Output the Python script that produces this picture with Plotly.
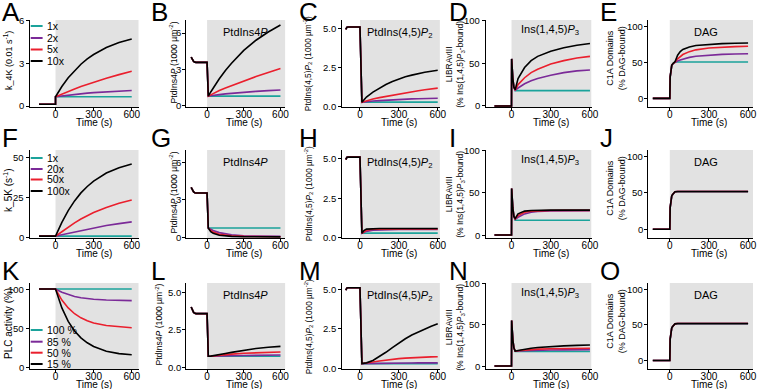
import plotly.graph_objects as go

W, H = 763, 389

# ---------------- data ----------------
# Rate panels (A, F): time (s)
T_RATE = [-130, 0, 0.1, 50, 100, 150, 200, 250, 300, 400, 500, 600]
A_1x = [0.12, 0.12, 0.65, 0.65, 0.65, 0.65, 0.65, 0.65, 0.65, 0.65, 0.65, 0.65]
A_2x = [0.12, 0.12, 0.65, 0.71, 0.76, 0.81, 0.86, 0.90, 0.94, 1.00, 1.05, 1.09]
A_5x = [0.12, 0.12, 0.65, 0.85, 1.03, 1.20, 1.37, 1.52, 1.67, 1.95, 2.20, 2.43]
A_10x = [0.12, 0.12, 0.65, 1.37, 1.98, 2.49, 2.93, 3.30, 3.61, 4.10, 4.45, 4.70]
F_1x = [0.6, 0.6, 0.6, 0.6, 0.6, 0.6, 0.6, 0.6, 0.6, 0.6, 0.6, 0.6]
F_20x = [0.6, 0.6, 0.6, 1.4, 2.2, 3.2, 4.1, 4.9, 5.7, 7.2, 8.4, 9.5]
F_50x = [0.6, 0.6, 0.6, 3.3, 6.3, 8.9, 11.3, 13.4, 15.3, 18.5, 21.1, 23.1]
F_100x = [0.6, 0.6, 0.6, 9.1, 16.5, 22.6, 27.6, 31.6, 35.0, 40.0, 43.3, 45.6]

# PLC activity (K)
T_PLC = [-130, 0, 50, 100, 150, 200, 250, 300, 400, 500, 600]
K_100 = [100, 100, 100, 100, 100, 100, 100, 100, 100, 100, 100]
K_85 = [100, 100, 95.8, 92.8, 90.6, 89.0, 87.9, 87.1, 86.1, 85.6, 85.3]
K_50 = [100, 100, 86.0, 76.0, 68.7, 63.5, 59.8, 57.0, 53.7, 51.9, 51.0]
K_15 = [100, 100, 76.0, 59.0, 46.9, 38.1, 31.9, 27.2, 21.2, 18.2, 16.7]

# PtdIns4P (B, G, L)
T_PI4P = [-130, -120, -110, -100, -90, 0, 10, 30, 50, 100, 150, 200, 300, 400, 500, 600]
PRE_PI4P = [4.0, 3.78, 3.64, 3.58, 3.56, 3.56]
B_1x = [0.75, 0.75, 0.75, 0.75, 0.75, 0.75, 0.75, 0.75, 0.75, 0.75]
B_2x = [0.75, 0.78, 0.82, 0.88, 0.94, 0.99, 1.08, 1.15, 1.21, 1.26]
B_5x = [0.75, 0.86, 0.98, 1.22, 1.43, 1.63, 2.00, 2.38, 2.72, 3.05]
B_10x = [0.75, 1.10, 1.45, 2.20, 2.88, 3.48, 4.55, 5.40, 6.08, 6.66]
G_1x = [0.75, 0.75, 0.75, 0.75, 0.75, 0.75, 0.75, 0.75, 0.75, 0.75]
G_20x = [0.75, 0.65, 0.55, 0.38, 0.27, 0.20, 0.13, 0.10, 0.09, 0.08]
G_50x = [0.75, 0.55, 0.42, 0.25, 0.17, 0.12, 0.08, 0.06, 0.05, 0.05]
G_100x = [0.75, 0.45, 0.32, 0.17, 0.11, 0.08, 0.05, 0.04, 0.04, 0.04]
L_100 = [0.72, 0.72, 0.72, 0.72, 0.72, 0.72, 0.72, 0.72, 0.72, 0.72]
L_85 = [0.72, 0.72, 0.73, 0.74, 0.75, 0.76, 0.77, 0.78, 0.79, 0.80]
L_50 = [0.72, 0.72, 0.74, 0.78, 0.82, 0.86, 0.92, 0.96, 0.98, 1.00]
L_15 = [0.72, 0.73, 0.75, 0.82, 0.90, 0.98, 1.12, 1.24, 1.32, 1.38]

# PtdIns(4,5)P2 (C, H, M)
T_PIP2 = [-110, -105, -100, -90, 0, 15, 30, 50, 100, 150, 200, 250, 300, 350, 400, 450, 500, 550, 600]
PRE_PIP2 = [4.95, 5.05, 5.09, 5.10, 5.10]
C_1x = [0.28, 0.29, 0.29, 0.29, 0.29, 0.29, 0.29, 0.29, 0.29, 0.29, 0.29, 0.29, 0.29, 0.29]
C_2x = [0.28, 0.30, 0.32, 0.36, 0.39, 0.42, 0.44, 0.46, 0.48, 0.50, 0.51, 0.52, 0.53, 0.54]
C_5x = [0.28, 0.32, 0.38, 0.49, 0.58, 0.66, 0.74, 0.82, 0.89, 0.96, 1.02, 1.08, 1.14, 1.19]
C_10x = [0.28, 0.42, 0.62, 0.93, 1.19, 1.42, 1.61, 1.77, 1.91, 2.02, 2.12, 2.20, 2.27, 2.33]
H_1x = [0.28, 0.29, 0.29, 0.29, 0.29, 0.29, 0.29, 0.29, 0.29, 0.29, 0.29, 0.29, 0.29, 0.29]
H_20x = [0.28, 0.33, 0.40, 0.48, 0.50, 0.51, 0.52, 0.52, 0.52, 0.52, 0.52, 0.52, 0.52, 0.52]
H_50x = [0.28, 0.38, 0.47, 0.53, 0.54, 0.55, 0.55, 0.55, 0.55, 0.55, 0.55, 0.55, 0.55, 0.55]
H_100x = [0.28, 0.45, 0.54, 0.57, 0.58, 0.58, 0.58, 0.58, 0.58, 0.58, 0.58, 0.58, 0.58, 0.58]
M_100 = [0.28, 0.28, 0.28, 0.28, 0.28, 0.28, 0.28, 0.28, 0.28, 0.28, 0.28, 0.28, 0.28, 0.28]
M_85 = [0.28, 0.28, 0.29, 0.30, 0.30, 0.31, 0.31, 0.32, 0.32, 0.32, 0.33, 0.33, 0.33, 0.33]
M_50 = [0.28, 0.29, 0.31, 0.38, 0.45, 0.51, 0.56, 0.60, 0.63, 0.66, 0.68, 0.70, 0.71, 0.72]
M_15 = [0.28, 0.29, 0.33, 0.48, 0.73, 1.00, 1.30, 1.60, 1.86, 2.10, 2.30, 2.48, 2.66, 2.82]

# Ins(1,4,5)P3 / LIBRAvIII (D, I, N)
T_IP3 = [-130, 0, 1, 5, 10, 18, 28, 50, 100, 150, 200, 300, 400, 500, 600]
PRE_IP3 = [0, 0, 55, 42, 32, 22]
D_1x = [18, 18, 18, 18, 18, 18, 18, 18, 18]
D_2x = [18.5, 21, 26, 29.5, 32, 36, 39, 41, 42]
D_5x = [18.5, 25, 33, 39, 43, 49, 53, 56, 58]
D_10x = [19, 32, 45, 53, 58, 64, 68, 71, 73]
I_1x = [17.5, 17.5, 17.5, 17.5, 17.5, 17.5, 17.5, 17.5, 17.5]
I_20x = [18.5, 21, 25, 27, 28, 28.5, 28.7, 28.8, 28.8]
I_50x = [19, 23, 27, 28.3, 28.8, 29, 29.1, 29.2, 29.2]
I_100x = [19.5, 25, 28.3, 29, 29.3, 29.5, 29.5, 29.5, 29.5]
N_100 = [17.5, 17.5, 17.5, 17.5, 17.5, 17.5, 17.5, 17.5, 17.5]
N_85 = [18, 18.3, 18.7, 19, 19.2, 19.4, 19.5, 19.6, 19.7]
N_50 = [18, 18.5, 19.3, 19.9, 20.4, 21, 21.3, 21.5, 21.6]
N_15 = [18, 18.8, 20.5, 21.6, 22.4, 23.6, 24.4, 25, 25.4]

# DAG / C1A domains (E, J, O)
T_DAG = [-130, 0, 3, 8, 15, 25, 40, 60, 80, 100, 150, 200, 300, 400, 500, 600]
PRE_DAG = [0, 0, 30, 42, 46, 48.5]
E_1x = [50.5, 50.5, 50.5, 50.5, 50.5, 50.5, 50.5, 50.5, 50.5, 50.5]
E_2x = [50.5, 52, 53.5, 54.8, 57, 58.5, 60.2, 61.2, 61.7, 62]
E_5x = [50.5, 55, 58.5, 61, 65, 67.5, 70, 71.3, 72, 72.5]
E_10x = [51, 60, 65, 68, 71.5, 73.5, 75.3, 76.2, 76.7, 77]
J_1x = [51, 51.5, 51.5, 51.5, 51.5, 51.5, 51.5, 51.5, 51.5, 51.5]
J_20x = [51.5, 52, 52, 52, 52, 52, 52, 52, 52, 52]
J_50x = [51.5, 52, 52, 52, 52, 52, 52, 52, 52, 52]
J_100x = [51.5, 52, 52, 52, 52, 52, 52, 52, 52, 52]
O_100 = [51, 51.5, 51.5, 51.5, 51.5, 51.5, 51.5, 51.5, 51.5, 51.5]
O_85 = [51.5, 52, 52, 52, 52, 52, 52, 52, 52, 52]
O_50 = [51.5, 52, 52, 52, 52, 52, 52, 52, 52, 52]
O_15 = [51.5, 52, 52, 52, 52, 52, 52, 52, 52, 52]

# tick values / labels
X_TICKS = [0, 300, 600]
Y_TICKS_36 = [0, 3, 6]
Y_TICKS_25 = [0, 2.5, 5]
Y_TEXT_25 = ["0.0", "2.5", "5.0"]
Y_TICKS_100 = [0, 50, 100]
Y_TICKS_F = [0, 25, 50]

# legend labels
LEG_A = ["1x", "2x", "5x", "10x"]
LEG_F = ["1x", "20x", "50x", "100x"]
LEG_K = ["100 %", "85 %", "50 %", "15 %"]

# ---------------- style ----------------
COLORS = ["#1ba39b", "#7b2a98", "#ea1f2d", "#000000"]
GREY = "#e2e2e2"
FONT = "Liberation Sans, Arial, sans-serif"

COLS = [(30, 140, [-203, 655]), (188, 288, [-170, 640]), (345, 444, [-140, 617]),
        (490, 597, [-199, 612]), (654, 760, [-167, 638])]
ROWS = [(20, 107), (150, 238), (283, 369)]


def px(x):
    return x / W


def py(y):
    return 1 - y / H


PI4P_TITLE = "PtdIns4<i>P</i> (1000 µm<sup>-2</sup>)"
PIP2_TITLE = "PtdIns(4,5)<i>P</i><sub>2</sub> (1000 µm<sup>-2</sup>)"
IP3_TITLE = "LIBRAvIII<br>(% Ins(1,4,5)<i>P</i><sub>3</sub>-bound)"
DAG_TITLE = "C1A Domains<br>(% DAG-bound)"


def txt(v):
    return [str(t) for t in v]


panels = [
    # row 1
    dict(L="A", t=T_RATE, ys=[A_1x, A_2x, A_5x, A_10x], yr=[-0.07, 6.03], tv=Y_TICKS_36, tt=txt(Y_TICKS_36),
         yt="k_4K (0.01 s<sup>-1</sup>)", lab=None),
    dict(L="B", t=T_PI4P, ys=[PRE_PI4P + s for s in (B_1x, B_2x, B_5x, B_10x)], yr=[-0.15, 7.08],
         tv=Y_TICKS_36, tt=txt(Y_TICKS_36), yt=PI4P_TITLE, lab="PtdIns4<i>P</i>"),
    dict(L="C", t=T_PIP2, ys=[PRE_PIP2 + s for s in (C_1x, C_2x, C_5x, C_10x)], yr=[-0.02, 5.55],
         tv=Y_TICKS_25, tt=Y_TEXT_25, yt=PIP2_TITLE, lab="PtdIns(4,5)<i>P</i><sub>2</sub>"),
    dict(L="D", t=T_IP3, ys=[PRE_IP3 + s for s in (D_1x, D_2x, D_5x, D_10x)], yr=[-1.2, 100.5],
         tv=Y_TICKS_100, tt=txt(Y_TICKS_100), yt=IP3_TITLE, lab="Ins(1,4,5)<i>P</i><sub>3</sub>"),
    dict(L="E", t=T_DAG, ys=[PRE_DAG + s for s in (E_1x, E_2x, E_5x, E_10x)], yr=[-12, 109],
         tv=Y_TICKS_100, tt=txt(Y_TICKS_100), yt=DAG_TITLE, lab="DAG"),
    # row 2
    dict(L="F", t=T_RATE, ys=[F_1x, F_20x, F_50x, F_100x], yr=[-0.6, 54.4], tv=Y_TICKS_F, tt=txt(Y_TICKS_F),
         yt="k_5K (s<sup>-1</sup>)", lab=None),
    dict(L="G", t=T_PI4P, ys=[PRE_PI4P + s for s in (G_1x, G_20x, G_50x, G_100x)], yr=[-0.05, 7.0],
         tv=Y_TICKS_36, tt=txt(Y_TICKS_36), yt=PI4P_TITLE, lab="PtdIns4<i>P</i>"),
    dict(L="H", t=T_PIP2, ys=[PRE_PIP2 + s for s in (H_1x, H_20x, H_50x, H_100x)], yr=[-0.02, 5.55],
         tv=Y_TICKS_25, tt=Y_TEXT_25, yt=PIP2_TITLE, lab="PtdIns(4,5)<i>P</i><sub>2</sub>"),
    dict(L="I", t=T_IP3, ys=[PRE_IP3 + s for s in (I_1x, I_20x, I_50x, I_100x)], yr=[-3.5, 100.5],
         tv=Y_TICKS_100, tt=txt(Y_TICKS_100), yt=IP3_TITLE, lab="Ins(1,4,5)<i>P</i><sub>3</sub>"),
    dict(L="J", t=T_DAG, ys=[PRE_DAG + s for s in (J_1x, J_20x, J_50x, J_100x)], yr=[-12, 109],
         tv=Y_TICKS_100, tt=txt(Y_TICKS_100), yt=DAG_TITLE, lab="DAG"),
    # row 3
    dict(L="K", t=T_PLC, ys=[K_100, K_85, K_50, K_15], yr=[-1.3, 107.6], tv=Y_TICKS_100,
         tt=txt(Y_TICKS_100), yt="PLC activity (%)", lab=None),
    dict(L="L", t=T_PI4P, ys=[PRE_PI4P + s for s in (L_100, L_85, L_50, L_15)], yr=[-0.13, 5.6],
         tv=Y_TICKS_25, tt=Y_TEXT_25, yt=PI4P_TITLE, lab="PtdIns4<i>P</i>"),
    dict(L="M", t=T_PIP2, ys=[PRE_PIP2 + s for s in (M_100, M_85, M_50, M_15)], yr=[-0.06, 5.4],
         tv=Y_TICKS_25, tt=Y_TEXT_25, yt=PIP2_TITLE, lab="PtdIns(4,5)<i>P</i><sub>2</sub>"),
    dict(L="N", t=T_IP3, ys=[PRE_IP3 + s for s in (N_100, N_85, N_50, N_15)], yr=[-3.6, 100.5],
         tv=Y_TICKS_100, tt=txt(Y_TICKS_100), yt=IP3_TITLE, lab="Ins(1,4,5)<i>P</i><sub>3</sub>"),
    dict(L="O", t=T_DAG, ys=[PRE_DAG + s for s in (O_100, O_85, O_50, O_15)], yr=[-12, 109],
         tv=Y_TICKS_100, tt=txt(Y_TICKS_100), yt=DAG_TITLE, lab="DAG"),
]

# y-title x centre (px) per panel, offset from row top, font size
YT_X = [[8, 175, 311, 459, 622], [8, 175, 311, 459, 622], [8, 160, 311, 459, 622]]
YT_DY = [40, 42, 44, 44, 38]
YT_SIZE = [[9, 8.6, 8.3, 8.5, 9], [10, 8.6, 8.3, 8.5, 9], [10, 8.6, 8.3, 8.5, 9]]
LETTER_X = [0, 150, 300, 451, 604]
LETTER_Y = [12, 138, 271]
LAB_X_PX = [None, 248, 403, 555, 713]
LAB_DY = [None, 12, 13, 10, 12]

fig = go.Figure()
annotations = []
shapes = []
layout = {}

for i, p in enumerate(panels):
    r, c = divmod(i, 5)
    n = i + 1
    xs = "" if n == 1 else str(n)
    xl, xr, xrange = COLS[c]
    yt_, yb_ = ROWS[r]
    for k in range(4):
        fig.add_trace(go.Scatter(x=p["t"], y=p["ys"][k], mode="lines",
                                 line=dict(color=COLORS[k], width=1.6),
                                 xaxis="x" + xs, yaxis="y" + xs, showlegend=False,
                                 hoverinfo="skip"))
    layout["xaxis" + xs] = dict(domain=[px(xl), px(xr)], range=xrange, anchor="y" + xs,
                                showline=True, linecolor="black", linewidth=1,
                                ticks="outside", ticklen=3, tickwidth=1, tickcolor="black",
                                tickvals=X_TICKS, ticktext=txt(X_TICKS),
                                showgrid=False, zeroline=False, ticklabeloverflow="allow",
                                tickfont=dict(family=FONT, size=10, color="black"),
                                ticklabelstandoff=-5)
    layout["yaxis" + xs] = dict(domain=[py(yb_), py(yt_)], range=p["yr"], anchor="x" + xs,
                                showline=True, linecolor="black", linewidth=1,
                                ticks="outside", ticklen=3, tickwidth=1, tickcolor="black",
                                tickvals=p["tv"], showticklabels=False,
                                showgrid=False, zeroline=False)
    # y tick labels (placed on the axis scale)
    for v, s in zip(p["tv"], p["tt"]):
        annotations.append(dict(text=s, xref="paper", yref="y" + xs, x=px(xl - 3.5), y=v,
                                xanchor="right", yanchor="middle", showarrow=False,
                                font=dict(family=FONT, size=9.5, color="black")))
    # grey stimulus region
    shapes.append(dict(type="rect", xref="x" + xs, yref="y" + xs + " domain",
                       x0=0, x1=xrange[1], y0=0, y1=1, fillcolor=GREY,
                       line=dict(width=0), layer="below"))
    # panel letter
    annotations.append(dict(text=p["L"], xref="paper", yref="paper", x=px(LETTER_X[c]),
                            y=py(LETTER_Y[r]), xanchor="left", yanchor="middle",
                            showarrow=False, font=dict(family=FONT, size=26, color="black")))
    # y title
    annotations.append(dict(text=p["yt"], xref="paper", yref="paper", x=px(YT_X[r][c]),
                            y=py(yt_ + YT_DY[c]), xanchor="center", yanchor="middle",
                            textangle=-90, showarrow=False,
                            font=dict(family=FONT, size=YT_SIZE[r][c], color="black")))
    # x title
    annotations.append(dict(text="Time (s)", xref="x" + xs, yref="paper", x=300,
                            y=py(yb_ + 15), xanchor="center", yanchor="middle",
                            showarrow=False, font=dict(family=FONT, size=10, color="black")))
    # inner label
    if p["lab"]:
        annotations.append(dict(text=p["lab"], xref="paper", yref="paper", x=px(LAB_X_PX[c]),
                                y=py(yt_ + LAB_DY[c]), xanchor="center", yanchor="middle",
                                showarrow=False, font=dict(family=FONT, size=11, color="black")))

# legends (A, F, K)
LEG_ROWS = [([26, 38, 49.5, 61], LEG_A), ([158, 169, 179.5, 191], LEG_F), ([330, 341.7, 352.7, 364], LEG_K)]
for ys_, labels in LEG_ROWS:
    for k in range(4):
        shapes.append(dict(type="line", xref="paper", yref="paper", x0=px(31), x1=px(43),
                           y0=py(ys_[k]), y1=py(ys_[k]), line=dict(color=COLORS[k], width=2)))
        annotations.append(dict(text=labels[k], xref="paper", yref="paper", x=px(45),
                                y=py(ys_[k]), xanchor="left", yanchor="middle", showarrow=False,
                                font=dict(family=FONT, size=10.5, color="black")))

fig.update_layout(width=W, height=H, margin=dict(l=0, r=0, t=0, b=0),
                  paper_bgcolor="white", plot_bgcolor="white",
                  annotations=annotations, shapes=shapes, showlegend=False, **layout)

fig.write_html("out.html", config={"displayModeBar": False},
               post_script="document.body.style.margin='0';document.body.style.overflow='hidden';")
